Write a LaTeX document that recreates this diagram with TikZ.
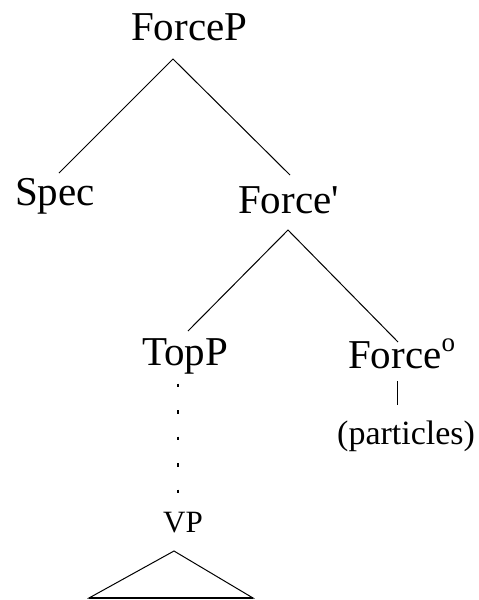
\documentclass[tikz,border=0pt]{standalone}
\usepackage{fontspec}
\newfontfamily\treefont{Liberation Serif}
\begin{document}
\begin{tikzpicture}[x=1pt,y=-1pt,
  label/.style={inner sep=0pt,anchor=base west,font=\treefont\fontsize{41}{41}\selectfont},
  small/.style={inner sep=0pt,anchor=base west,font=\treefont\fontsize{34}{34}\selectfont},
  vp/.style={inner sep=0pt,anchor=base west,font=\treefont\fontsize{31}{31}\selectfont},
  branch/.style={line width=1pt},
  dotpath/.style={line width=2.2pt,line cap=butt,dash pattern=on 3.5pt off 23pt}]
\useasboundingbox (0,0) rectangle (479,600);
\fill[white] (0,0) rectangle (479,600);

% labels
\node[label] (forcep) at (131,40) {ForceP};
\node[label] (spec) at (15,205) {Spec};
\node[label] (forcebar) at (238,213) {Force\char"27};
\node[label] (topp) at (142,365) {TopP};
\node[label] (forcehead) at (348,368) {Force\raisebox{17pt}{\fontsize{27}{27}\selectfont o}};
\node[small] (particles) at (337,444) {(particles)};
\node[vp] (vp) at (163,532) {VP};

% branch end points
\coordinate (fpA) at (173,59);
\coordinate (specT) at (59,173);
\coordinate (fbT) at (290,175);
\coordinate (fbA) at (288,230);
\coordinate (toppT) at (188,331);
\coordinate (fhT) at (398,342);
\coordinate (fhB) at (397,381);
\coordinate (partT) at (397,405);
\coordinate (toppB) at (178,383.5);
\coordinate (vpT) at (178,494);
\coordinate (triA) at (174,551);
\coordinate (triL) at (89,598);
\coordinate (triR) at (253,598);

\draw[branch] (specT) -- (fpA) -- (fbT);
\draw[branch] (toppT) -- (fbA) -- (fhT);
\draw[branch] (fhB) -- (partT);
\draw[dotpath] (toppB) -- (vpT);
\draw[branch] (triL) -- (triA) -- (triR) -- cycle;
\draw[line width=1.6pt] (triL) -- (triR);
\end{tikzpicture}
\end{document}
